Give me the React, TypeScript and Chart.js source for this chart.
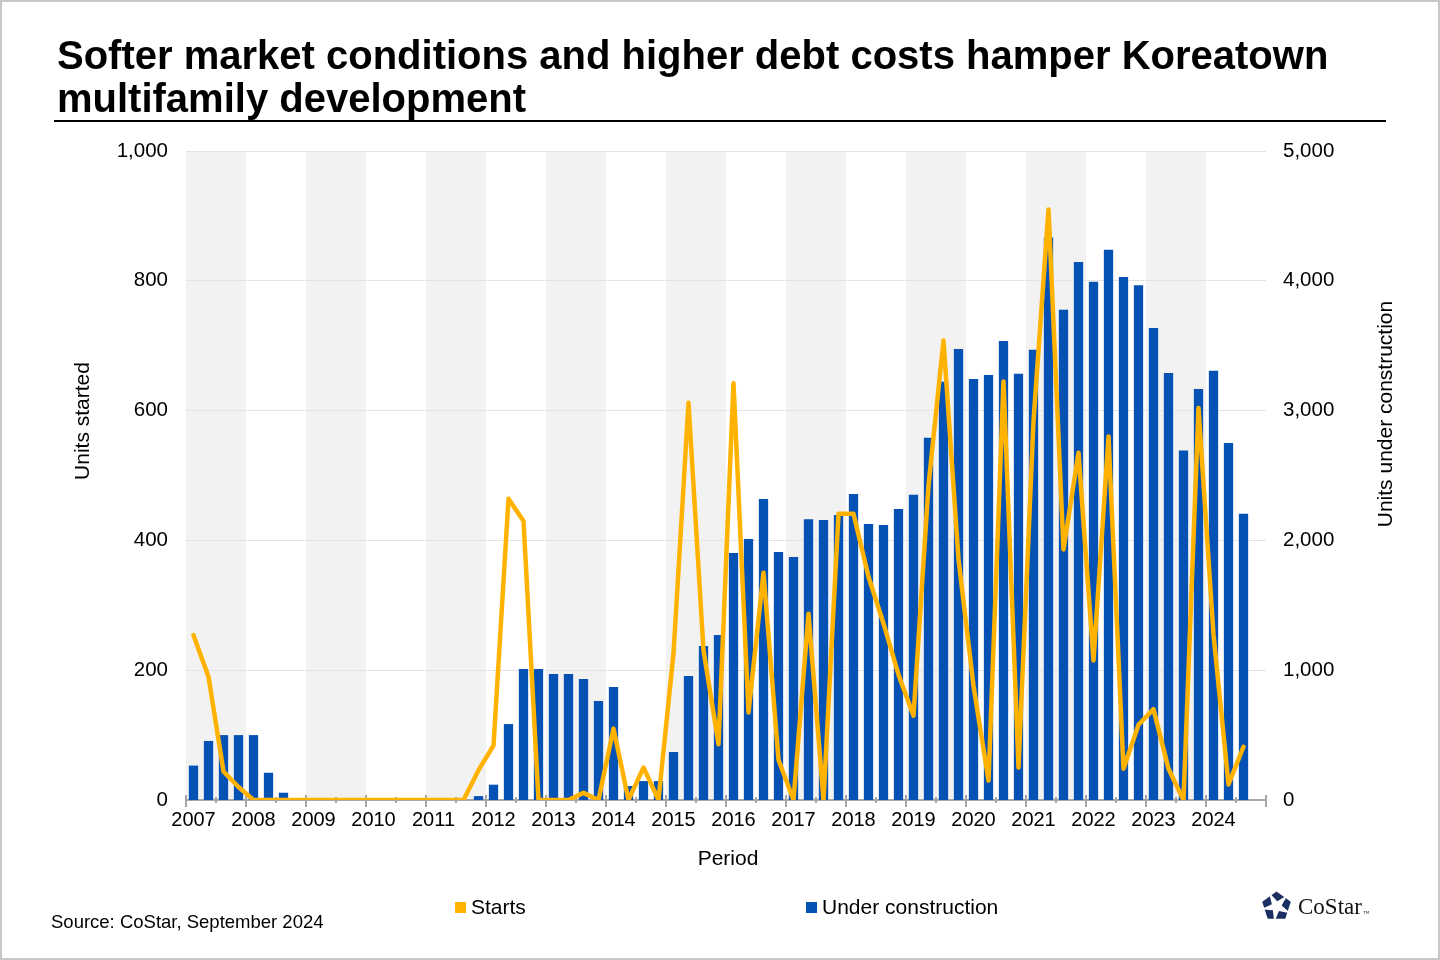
import React, { useEffect, useRef } from "react";
import { Chart, registerables } from "chart.js";

Chart.register(...registerables);

const years = [
  "2007", "2008", "2009", "2010", "2011", "2012", "2013", "2014", "2015",
  "2016", "2017", "2018", "2019", "2020", "2021", "2022", "2023", "2024",
];
const quarters = ["Q1", "Q2", "Q3", "Q4"];

// Units started (left axis), quarterly 2007 Q1 – 2024 Q3
const starts = [
  254, 190, 44, 20,
  0, 0, 0, 0,
  0, 0, 0, 0,
  0, 0, 0, 0,
  0, 0, 0, 46,
  84, 464, 430, 0,
  0, 0, 11, 0,
  110, 0, 50, 0,
  226, 612, 231, 86,
  642, 135, 350, 62,
  0, 287, 0, 441,
  441, 344, 272, 193,
  130, 485, 708, 371,
  176, 30, 645, 50,
  584, 910, 386, 535,
  215, 560, 48, 116,
  140, 48, 0, 604,
  255, 24, 82,
];

// Units under construction (right axis)
const underConstruction = [
  265, 455, 500, 500,
  500, 210, 56, 0,
  0, 0, 0, 0,
  0, 0, 0, 0,
  0, 0, 0, 30,
  118, 585, 1010, 1010,
  970, 970, 932, 763,
  871, 108, 146, 146,
  370, 955, 1186, 1271,
  1903, 2011, 2319, 1911,
  1872, 2162, 2157, 2196,
  2357, 2126, 2119, 2242,
  2352, 2790, 3223, 3474,
  3243, 3274, 3536, 3283,
  3469, 4334, 3777, 4145,
  3992, 4239, 4029, 3965,
  3636, 3290, 2693, 3167,
  3307, 2750, 2206,
];

const leftTicks = [0, 200, 400, 600, 800, 1000];
const rightTicks = [0, 1000, 2000, 3000, 4000, 5000];

const periods: string[] = [];
years.forEach((y) => quarters.forEach((q) => periods.push(`${y} ${q}`)));

const FONT = "'Liberation Sans', Arial, Helvetica, sans-serif";
const ORANGE = "#FFB300";
const BLUE = "#0652B4";

const fmt = (v: number) => v.toLocaleString("en-US");

const decorPlugin = {
  id: "decor",
  beforeDraw(chart: any) {
    const { ctx, chartArea } = chart;
    const x = chart.scales.x;
    const slot = x.getPixelForValue(1) - x.getPixelForValue(0);
    ctx.save();
    ctx.fillStyle = "#F2F2F2";
    years.forEach((_, yi) => {
      if (yi % 2 === 0) {
        const x0 = x.getPixelForValue(yi * 4) - slot / 2;
        ctx.fillRect(x0, chartArea.top, slot * 4, chartArea.bottom - chartArea.top);
      }
    });
    ctx.restore();
  },
  beforeDatasetsDraw(chart: any) {
    const { ctx, chartArea } = chart;
    const x = chart.scales.x;
    const slot = x.getPixelForValue(1) - x.getPixelForValue(0);
    const base = chartArea.bottom;
    ctx.save();
    ctx.strokeStyle = "#A6A6A6";
    ctx.lineWidth = 2;
    ctx.beginPath();
    ctx.moveTo(chartArea.left, base);
    ctx.lineTo(chartArea.right, base);
    ctx.stroke();
    for (let i = 0; i <= periods.length; i += 2) {
      const px = Math.round(x.getPixelForValue(i) - slot / 2);
      const isYear = i % 4 === 0;
      ctx.beginPath();
      ctx.moveTo(px, isYear ? base - 5 : base - 3);
      ctx.lineTo(px, isYear ? base + 7 : base + 3);
      ctx.stroke();
    }
    ctx.restore();
  },
  afterDraw(chart: any) {
    const { ctx } = chart;
    ctx.save();
    ctx.fillStyle = "#000";
    ctx.font = `21px ${FONT}`;
    ctx.textAlign = "center";
    ctx.textBaseline = "middle";
    ctx.fillText("Period", 728, 859);
    ctx.translate(83, 421);
    ctx.rotate(-Math.PI / 2);
    ctx.fillText("Units started", 0, 0);
    ctx.restore();
    ctx.save();
    ctx.fillStyle = "#000";
    ctx.font = `21px ${FONT}`;
    ctx.textAlign = "center";
    ctx.textBaseline = "middle";
    ctx.translate(1386, 414);
    ctx.rotate(-Math.PI / 2);
    ctx.fillText("Units under construction", 0, 0);
    ctx.restore();
  },
};

function Logo() {
  const cx = 15.5;
  const cy = 15.5;
  const pent: string[] = [];
  for (let k = 0; k < 5; k++) {
    const a = ((-90 + 72 * k) * Math.PI) / 180;
    pent.push(`${cx + 15 * Math.cos(a)},${cy + 15 * Math.sin(a)}`);
  }
  const star: string[] = [];
  for (let k = 0; k < 10; k++) {
    const r = k % 2 === 0 ? 16 : 5.2;
    const a = ((-54 + 36 * k + 8) * Math.PI) / 180;
    star.push(`${cx + r * Math.cos(a)},${cy + r * Math.sin(a)}`);
  }
  return (
    <svg width="31" height="31" viewBox="0 0 31 31" style={{ position: "absolute", left: 1261, top: 891 }}>
      <polygon points={pent.join(" ")} fill="#1C2F63" />
      <polygon points={star.join(" ")} fill="#FFFFFF" />
    </svg>
  );
}

export default function App() {
  const canvasRef = useRef<HTMLCanvasElement | null>(null);

  useEffect(() => {
    document.body.style.margin = "0";
    const canvas = canvasRef.current;
    if (!canvas) return;
    const chart = new Chart(canvas, {
      type: "bar",
      data: {
        labels: periods,
        datasets: [
          {
            type: "line",
            label: "Starts",
            data: starts,
            yAxisID: "y",
            borderColor: ORANGE,
            backgroundColor: ORANGE,
            borderWidth: 4.5,
            pointRadius: 0,
            tension: 0,
            borderJoinStyle: "round",
            borderCapStyle: "round",
            order: 0,
          } as any,
          {
            type: "bar",
            label: "Under construction",
            data: underConstruction,
            yAxisID: "y1",
            backgroundColor: BLUE,
            barPercentage: 0.62,
            categoryPercentage: 1,
            order: 1,
          } as any,
        ],
      },
      options: {
        responsive: false,
        animation: false,
        devicePixelRatio: 1,
        layout: { padding: { top: 151, left: 0, right: 0, bottom: 0 } },
        plugins: { legend: { display: false }, tooltip: { enabled: false }, title: { display: false } },
        scales: {
          x: {
            type: "category",
            offset: true,
            grid: { display: false, drawTicks: false },
            border: { display: false },
            ticks: {
              autoSkip: false,
              maxRotation: 0,
              minRotation: 0,
              padding: 8,
              color: "#000",
              font: { family: FONT, size: 20 },
              callback: (_v: any, i: number) => (i % 4 === 0 ? years[i / 4] : ""),
            },
            afterFit: (s: any) => {
              s.height = 160;
            },
          },
          y: {
            position: "left",
            min: 0,
            max: 1000,
            afterBuildTicks: (s: any) => {
              s.ticks = leftTicks.map((v) => ({ value: v }));
            },
            ticks: {
              padding: 18,
              color: "#000",
              font: { family: FONT, size: 20.5 },
              callback: (v: any) => fmt(Number(v)),
            },
            grid: { color: "#E4E4E4", lineWidth: 1, drawTicks: false },
            border: { display: false },
            afterFit: (s: any) => {
              s.width = 186;
            },
          },
          y1: {
            position: "right",
            min: 0,
            max: 5000,
            afterBuildTicks: (s: any) => {
              s.ticks = rightTicks.map((v) => ({ value: v }));
            },
            ticks: {
              padding: 17,
              color: "#000",
              font: { family: FONT, size: 20.5 },
              callback: (v: any) => fmt(Number(v)),
            },
            grid: { display: false, drawTicks: false },
            border: { display: false },
            afterFit: (s: any) => {
              s.width = 174;
            },
          },
        },
      } as any,
      plugins: [decorPlugin],
    });
    return () => chart.destroy();
  }, []);

  const text: React.CSSProperties = { position: "absolute", fontFamily: FONT, color: "#000", whiteSpace: "nowrap" };

  return (
    <div style={{ position: "relative", width: 1440, height: 960, overflow: "hidden", background: "#fff" }}>
      <canvas ref={canvasRef} width={1440} height={960} style={{ position: "absolute", left: 0, top: 0, width: 1440, height: 960 }} />
      <div style={{ ...text, left: 57, top: 34, fontSize: 40, lineHeight: "43px", fontWeight: 700 }}>
        Softer market conditions and higher debt costs hamper Koreatown
        <br />
        multifamily development
      </div>
      <div style={{ position: "absolute", left: 54, top: 120, width: 1332, height: 2, background: "#000" }} />
      <div style={{ position: "absolute", left: 455, top: 902, width: 11, height: 11, background: ORANGE }} />
      <div style={{ ...text, left: 471, top: 895, fontSize: 21, lineHeight: "24px" }}>Starts</div>
      <div style={{ position: "absolute", left: 806, top: 902, width: 11, height: 11, background: BLUE }} />
      <div style={{ ...text, left: 822, top: 895, fontSize: 21, lineHeight: "24px" }}>Under construction</div>
      <div style={{ ...text, left: 51, top: 911, fontSize: 18.5, lineHeight: "22px" }}>Source: CoStar, September 2024</div>
      <Logo />
      <div style={{ ...text, left: 1298, top: 893, fontSize: 23, lineHeight: "28px", fontFamily: "'Liberation Serif', 'Times New Roman', serif", color: "#111" }}>
        CoStar<span style={{ fontSize: 6, verticalAlign: "top", position: "relative", top: 6, marginLeft: 1 }}>™</span>
      </div>
      <div style={{ position: "absolute", left: 0, top: 0, width: 1440, height: 960, boxSizing: "border-box", border: "2px solid #C8C8C8", pointerEvents: "none" }} />
    </div>
  );
}
